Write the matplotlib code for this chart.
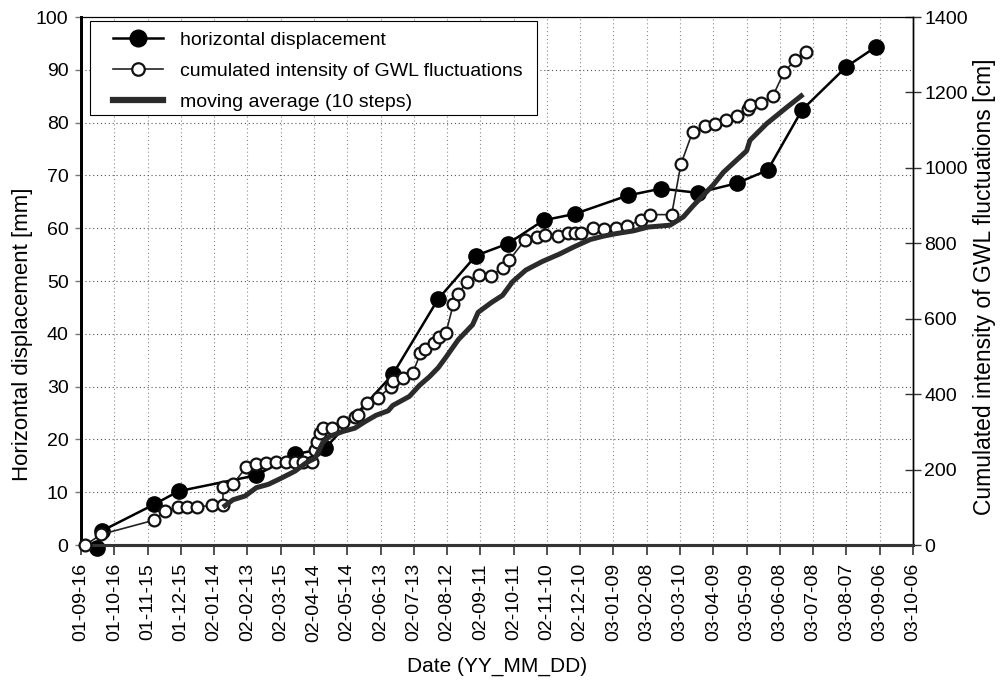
import numpy as np
import matplotlib
matplotlib.use("Agg")
import matplotlib.pyplot as plt
import matplotlib.dates as mdates
from matplotlib.lines import Line2D
from matplotlib.patches import Rectangle

plt.rcParams['font.family'] = ['Liberation Sans', 'DejaVu Sans']

start_date = np.datetime64('2001-09-16')
tick_step_days = 30
n_ticks = 26

# horizontal displacement [mm] (days after 2001-09-16)
disp_days = [14, 19, 66, 88, 158, 193, 220, 281, 322, 356, 385, 417, 445, 493, 523, 556, 591, 619, 650, 690, 717]
disp_mm = [-0.5, 2.7, 7.7, 10.2, 13.2, 17.2, 18.3, 32.3, 46.6, 54.8, 57.1, 61.5, 62.7, 66.2, 67.5, 66.7, 68.5, 71.0, 82.4, 90.6, 94.4]

# cumulated intensity of GWL fluctuations [cm]
gwl_days = [4, 18, 66, 76, 87, 96, 105, 118, 128, 128, 137, 149, 158, 167, 176, 185, 193, 200, 208,
            211, 212.5, 215.5, 218.5, 226, 236.5, 247, 250, 258, 268, 279.6, 281, 290, 299, 306, 310.5,
            318.6, 323, 329, 335.6, 340, 347.6, 358.5, 370, 380, 386, 400, 411, 418, 430, 439, 445, 451,
            461.6, 471.3, 482, 492.4, 504.5, 512.8, 532.4, 540.8, 551.3, 562.4, 571.5, 581.4, 591, 601.6,
            603, 613, 623.6, 633.8, 643.7, 653.7]
gwl_cm = [0, 28, 66, 90, 100, 100, 100, 106, 106, 154, 161, 207, 214, 218, 220, 220, 220, 220, 220,
          252, 274, 296, 309, 309, 327, 339, 345, 376, 391, 420, 434, 443, 456, 508, 520,
          536, 551, 563, 638, 665, 697, 717, 714, 735, 755, 808, 816, 822, 819, 826, 826, 827,
          841, 838, 841, 846, 862, 876, 876, 1010, 1095, 1111, 1116, 1126, 1138, 1155,
          1167, 1173, 1190, 1254, 1286, 1307]

# moving average (10 steps) [cm]
ma_days = [128, 137, 148, 158, 169, 181, 193, 203, 211, 218, 224, 236, 247, 256, 266, 277, 281, 296,
           305, 314, 322, 329, 340, 353, 358, 370, 380, 389, 401, 416, 431, 444, 459, 471, 483, 498,
           511, 531, 543, 552, 570, 579, 600, 603, 618, 636, 651]
ma_cm = [100, 120, 130, 152, 161, 178, 196, 218, 230, 272, 288, 301, 310, 327, 344, 356, 370, 394,
         423, 446, 470, 498, 544, 584, 617, 643, 662, 698, 729, 752, 771, 790, 810, 819, 826, 833,
         843, 848, 870, 900, 955, 988, 1045, 1073, 1117, 1160, 1195]

labels = ['horizontal displacement', 'cumulated intensity of GWL fluctuations', 'moving average (10 steps)']


def to_dates(days):
    return start_date + np.round(np.array(days) * 24).astype('timedelta64[h]')


fig = plt.figure(figsize=(10, 6.8), dpi=100)
ax = fig.add_axes([0.081, 0.1985, 0.832, 0.7765])
ax2 = ax.twinx()

fs = 14
ax.plot(to_dates(disp_days), disp_mm, color='black', lw=1.8, marker='o', ms=11,
        mfc='black', mec='black', clip_on=False, zorder=3)
ax2.plot(to_dates(gwl_days), gwl_cm, color='#222222', lw=1.2, marker='o', ms=8.5,
         mfc='white', mec='#111111', mew=1.6, clip_on=False, zorder=3)
ax2.plot(to_dates(ma_days), ma_cm, color='#2b2b2b', lw=3.6, zorder=4, solid_capstyle='butt')

ticks = start_date + np.arange(n_ticks) * np.timedelta64(tick_step_days, 'D')
ax.set_xlim(ticks[0], ticks[-1])
ax.set_xticks(ticks)
ax.xaxis.set_major_formatter(mdates.DateFormatter('%y-%m-%d'))
for lab in ax.get_xticklabels():
    lab.set_rotation(90)

ax.set_ylim(0, 100)
ax.set_yticks(np.arange(0, 101, 10))
ax2.set_ylim(0, 1400)
ax2.set_yticks(np.arange(0, 1401, 200))

ax.xaxis.grid(True, linestyle=(0, (1, 2.5)), color='#8a8a8a', lw=0.8)
ax.yaxis.grid(True, linestyle=(0, (1, 2.5)), color='#555555', lw=0.8)

ax.tick_params(axis='x', direction='out', length=7, width=1.2, labelsize=fs, pad=6, color='#333333')
ax.tick_params(axis='y', direction='out', length=4, width=1, labelsize=fs, pad=5, color='#777777')
ax2.tick_params(axis='y', direction='inout', length=12, width=1, labelsize=fs, pad=2, color='#333333')

for a in (ax, ax2):
    a.spines['left'].set_linewidth(2.0)
    a.spines['left'].set_color('black')
    a.spines['bottom'].set_linewidth(2.2)
    a.spines['bottom'].set_color('#333333')
    a.spines['top'].set_linewidth(0.8)
    a.spines['right'].set_linewidth(1.0)

ax.set_xlabel('Date (YY_MM_DD)', fontsize=15, labelpad=11)
ax.set_ylabel('Horizontal displacement [mm]', fontsize=16)
ax.yaxis.set_label_coords(-0.0577, 0.40)
ax2.set_ylabel('Cumulated intensity of GWL fluctuations [cm]', fontsize=16.5)
ax2.yaxis.set_label_coords(1.0721, 0.49)

# legend frame and entries
frame = Rectangle((0.0108, 0.8144), 0.537, 0.178, transform=ax2.transAxes, facecolor='white',
                  edgecolor='black', lw=0.8, zorder=5)
ax2.add_patch(frame)
handles = [
    Line2D([], [], color='black', lw=1.8, marker='o', ms=12, mfc='black', mec='black'),
    Line2D([], [], color='#222222', lw=1.2, marker='o', ms=9, mfc='white', mec='#111111', mew=1.6),
    Line2D([], [], color='#2b2b2b', lw=4.5),
]
leg = ax2.legend(handles, labels, loc='upper left', bbox_to_anchor=(0.0385, 0.973), borderaxespad=0,
                 fontsize=fs, frameon=False, handlelength=2.57, handletextpad=0.87, borderpad=0,
                 labelspacing=0.68)
leg.set_zorder(6)

fig.savefig('out.png', dpi=100, facecolor='white')
